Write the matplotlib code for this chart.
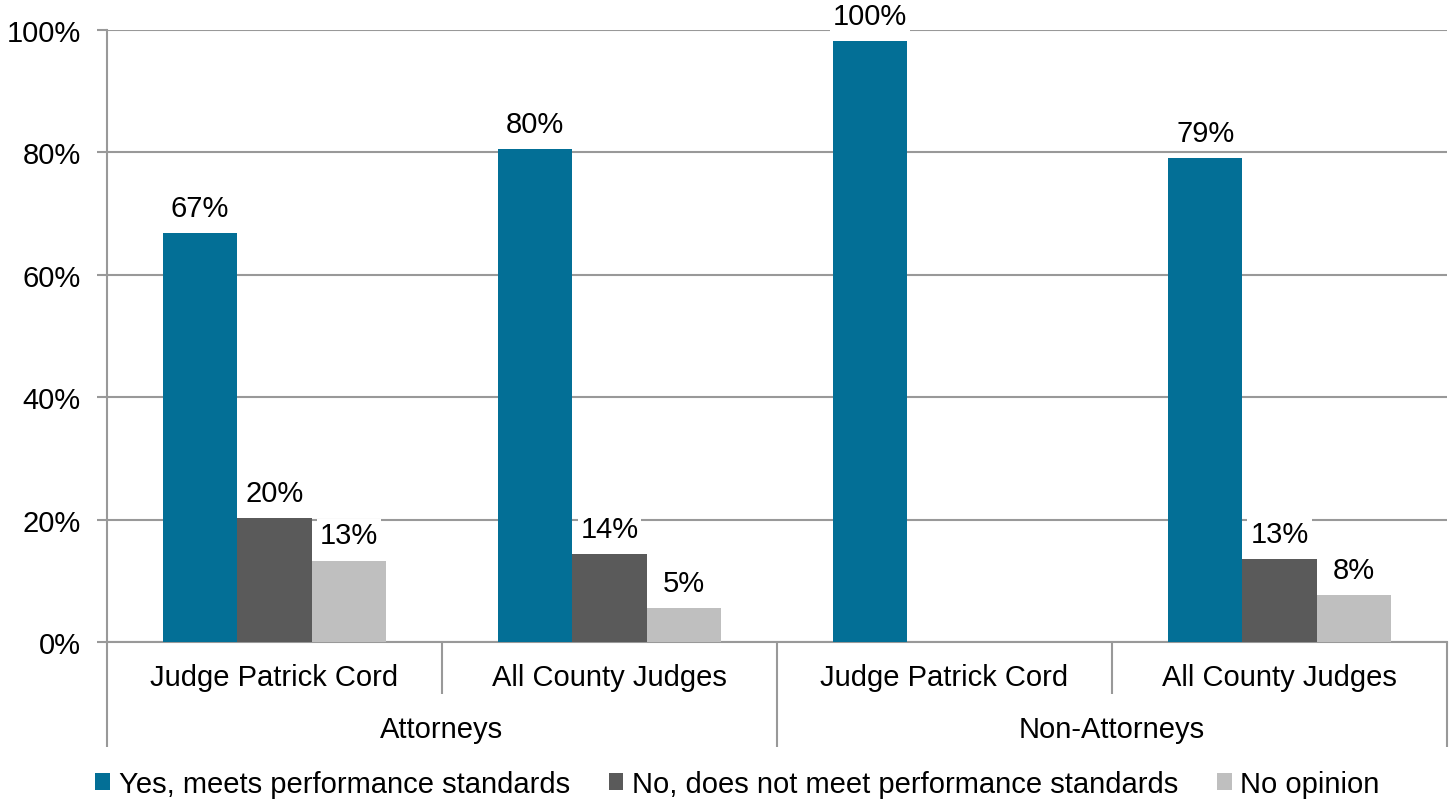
import matplotlib
matplotlib.use("Agg")
import matplotlib.pyplot as plt
from matplotlib.patches import Patch
from matplotlib.transforms import blended_transform_factory

plt.rcParams['font.family'] = ['Liberation Sans', 'DejaVu Sans']

# Data
subgroups = ["Judge Patrick Cord", "All County Judges", "Judge Patrick Cord", "All County Judges"]
groups = ["Attorneys", "Non-Attorneys"]
series_names = ["Yes, meets performance standards",
                "No, does not meet performance standards",
                "No opinion"]
yes_vals = [66.8, 80.5, 98.2, 79.1]
no_vals = [20.2, 14.3, None, 13.5]
noop_vals = [13.3, 5.5, None, 7.6]
yes_labels = ["67%", "80%", "100%", "79%"]
no_labels = ["20%", "14%", None, "13%"]
noop_labels = ["13%", "5%", None, "8%"]
yticks = [0, 20, 40, 60, 80, 100]
ytick_labels = ["0%", "20%", "40%", "60%", "80%", "100%"]

colors = ["#036F96", "#5A5A5A", "#BFBFBF"]
grid_color = "#999999"
FS = 21

fig = plt.figure(figsize=(14.53, 8.03), dpi=100)
ax = fig.add_axes([107/1453, 1-643/803, (1447-107)/1453, (643-31)/803])

n = len(subgroups)
centers = [i + 0.5 for i in range(n)]
bw = 0.222
offsets = [-bw, 0, bw]
all_vals = [yes_vals, no_vals, noop_vals]
all_labels = [yes_labels, no_labels, noop_labels]

for s, (vals, labs) in enumerate(zip(all_vals, all_labels)):
    for i, (v, lab) in enumerate(zip(vals, labs)):
        if v is None:
            continue
        x = centers[i] + offsets[s]
        ax.bar(x, v, width=bw, color=colors[s], zorder=3)
        ax.annotate(lab, (x, v), xytext=(0, 8), textcoords="offset points",
                    ha="center", va="bottom", fontsize=FS, color="black",
                    bbox=dict(facecolor="white", edgecolor="none", pad=2),
                    zorder=4, annotation_clip=False)

ax.set_xlim(0, n)
ax.set_ylim(0, 100)
ax.set_yticks(yticks)
ax.set_yticklabels(ytick_labels, fontsize=FS)
ax.yaxis.grid(True, color=grid_color, linewidth=1.5, zorder=0)
ax.set_axisbelow(True)
ax.tick_params(axis="y", length=7, width=1.5, color=grid_color, pad=12)
ax.set_xticks([])
for sp in ["top", "right"]:
    ax.spines[sp].set_visible(False)
for sp in ["left", "bottom"]:
    ax.spines[sp].set_color(grid_color)
    ax.spines[sp].set_linewidth(1.5)

trans = blended_transform_factory(ax.transData, ax.transAxes)
for xi in range(n + 1):
    bottom = -0.1716 if xi in (0, n // 2, n) else -0.085
    ax.plot([xi, xi], [0, bottom], color=grid_color, linewidth=1.5,
            transform=trans, clip_on=False, solid_capstyle="butt")
for i, lab in enumerate(subgroups):
    ax.text(centers[i], -0.0572, lab, transform=trans, ha="center", va="center", fontsize=FS)
for g, lab in enumerate(groups):
    ax.text(g * 2 + 1, -0.142, lab, transform=trans, ha="center", va="center", fontsize=FS)

handles = [Patch(facecolor=c, edgecolor="none") for c in colors]
fig.legend(handles, series_names, loc="center", bbox_to_anchor=(737.5/1453, 1 - 785/803),
           ncol=3, frameon=False, fontsize=FS, handlelength=0.5, handleheight=0.5,
           handletextpad=0.3, columnspacing=1.33, borderaxespad=0)

fig.savefig("out.png", dpi=100, facecolor="white")
